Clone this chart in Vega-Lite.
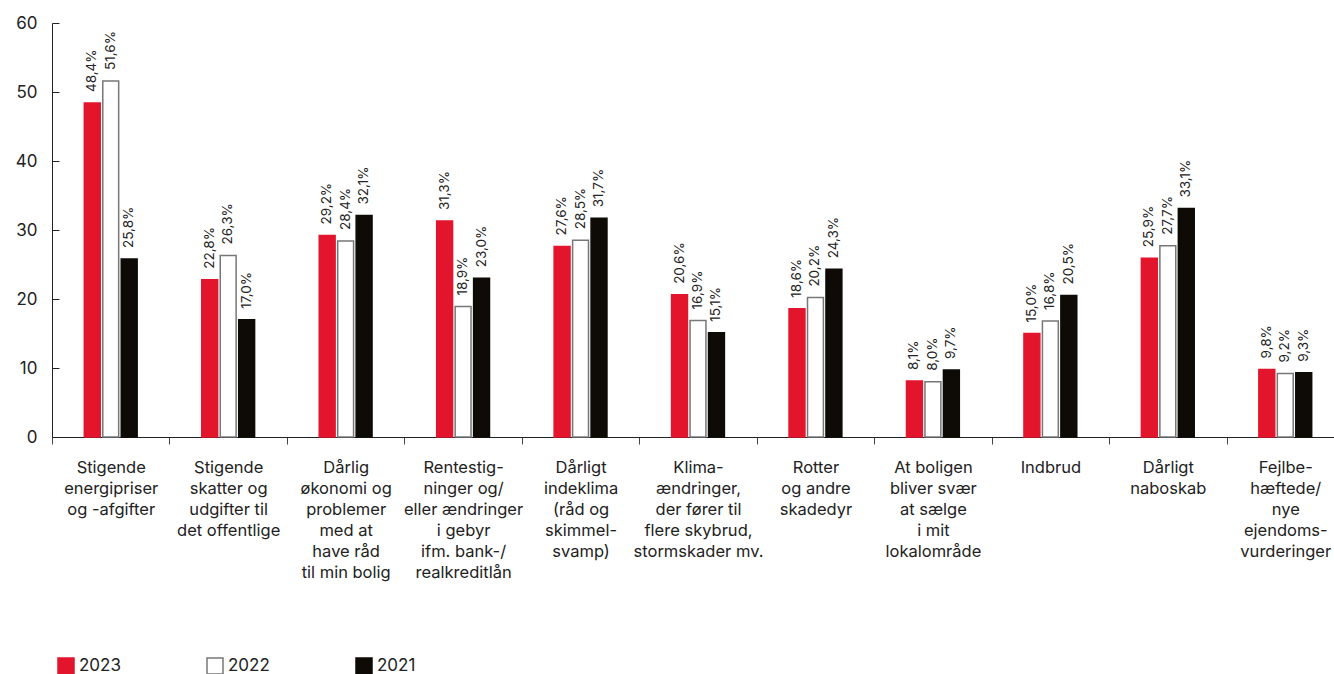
{
  "$schema": "https://vega.github.io/schema/vega-lite/v6.json",
  "width": 1292,
  "height": 414,
  "padding": {"left": 5, "top": 14, "right": 0, "bottom": 0},
  "autosize": {"type": "pad"},
  "background": "white",
  "config": {"view": {"stroke": null}, "font": "Inter"},
  "data": {
    "values": [
      {"cat": "Stigende|energipriser|og -afgifter", "year": "2023", "value": 48.4},
      {"cat": "Stigende|energipriser|og -afgifter", "year": "2022", "value": 51.6},
      {"cat": "Stigende|energipriser|og -afgifter", "year": "2021", "value": 25.8},
      {"cat": "Stigende|skatter og|udgifter til|det offentlige", "year": "2023", "value": 22.8},
      {"cat": "Stigende|skatter og|udgifter til|det offentlige", "year": "2022", "value": 26.3},
      {"cat": "Stigende|skatter og|udgifter til|det offentlige", "year": "2021", "value": 17.0},
      {"cat": "Dårlig|økonomi og|problemer|med at|have råd|til min bolig", "year": "2023", "value": 29.2},
      {"cat": "Dårlig|økonomi og|problemer|med at|have råd|til min bolig", "year": "2022", "value": 28.4},
      {"cat": "Dårlig|økonomi og|problemer|med at|have råd|til min bolig", "year": "2021", "value": 32.1},
      {"cat": "Rentestig-|ninger og/|eller ændringer|i gebyr|ifm. bank-/|realkreditlån", "year": "2023", "value": 31.3},
      {"cat": "Rentestig-|ninger og/|eller ændringer|i gebyr|ifm. bank-/|realkreditlån", "year": "2022", "value": 18.9},
      {"cat": "Rentestig-|ninger og/|eller ændringer|i gebyr|ifm. bank-/|realkreditlån", "year": "2021", "value": 23.0},
      {"cat": "Dårligt|indeklima|(råd og|skimmel-|svamp)", "year": "2023", "value": 27.6},
      {"cat": "Dårligt|indeklima|(råd og|skimmel-|svamp)", "year": "2022", "value": 28.5},
      {"cat": "Dårligt|indeklima|(råd og|skimmel-|svamp)", "year": "2021", "value": 31.7},
      {"cat": "Klima-|ændringer,|der fører til|flere skybrud,|stormskader mv.", "year": "2023", "value": 20.6},
      {"cat": "Klima-|ændringer,|der fører til|flere skybrud,|stormskader mv.", "year": "2022", "value": 16.9},
      {"cat": "Klima-|ændringer,|der fører til|flere skybrud,|stormskader mv.", "year": "2021", "value": 15.1},
      {"cat": "Rotter|og andre|skadedyr", "year": "2023", "value": 18.6},
      {"cat": "Rotter|og andre|skadedyr", "year": "2022", "value": 20.2},
      {"cat": "Rotter|og andre|skadedyr", "year": "2021", "value": 24.3},
      {"cat": "At boligen|bliver svær|at sælge|i mit|lokalområde", "year": "2023", "value": 8.1},
      {"cat": "At boligen|bliver svær|at sælge|i mit|lokalområde", "year": "2022", "value": 8.0},
      {"cat": "At boligen|bliver svær|at sælge|i mit|lokalområde", "year": "2021", "value": 9.7},
      {"cat": "Indbrud", "year": "2023", "value": 15.0},
      {"cat": "Indbrud", "year": "2022", "value": 16.8},
      {"cat": "Indbrud", "year": "2021", "value": 20.5},
      {"cat": "Dårligt|naboskab", "year": "2023", "value": 25.9},
      {"cat": "Dårligt|naboskab", "year": "2022", "value": 27.7},
      {"cat": "Dårligt|naboskab", "year": "2021", "value": 33.1},
      {"cat": "Fejlbe-|hæftede/|nye|ejendoms-|vurderinger", "year": "2023", "value": 9.8},
      {"cat": "Fejlbe-|hæftede/|nye|ejendoms-|vurderinger", "year": "2022", "value": 9.2},
      {"cat": "Fejlbe-|hæftede/|nye|ejendoms-|vurderinger", "year": "2021", "value": 9.3}
    ]
  },
  "transform": [
    {"calculate": "replace(format(datum.value, '.1f'), '.', ',') + '%'", "as": "lbl"}
  ],
  "encoding": {
    "x": {
      "field": "cat",
      "type": "nominal",
      "sort": null,
      "scale": {"paddingInner": 0, "paddingOuter": 0},
      "axis": {
        "title": null,
        "labelAngle": 0,
        "labelExpr": "split(datum.label, '|')",
        "labelFontSize": 16.5,
        "labelLineHeight": 21,
        "labelColor": "#222",
        "labelBaseline": "top",
        "labelPadding": 15,
        "labelLimit": 0,
        "tickBand": "extent",
        "tickSize": 7,
        "tickColor": "#444",
        "domainColor": "#222",
        "labelFont": "Inter"
      }
    },
    "xOffset": {
      "field": "year",
      "type": "nominal",
      "scale": {"domain": ["_a", "2023", "2022", "2021", "_b"], "paddingInner": 0.14, "paddingOuter": 0.75}
    },
    "y": {
      "field": "value",
      "type": "quantitative",
      "scale": {"domain": [0, 60], "nice": false},
      "axis": {
        "title": null,
        "values": [0, 10, 20, 30, 40, 50, 60],
        "grid": false,
        "labelFontSize": 17,
        "labelColor": "#222",
        "tickSize": -7,
        "labelPadding": 22,
        "tickColor": "#222",
        "domainColor": "#222",
        "minExtent": 47,
        "maxExtent": 47,
        "labelFont": "Inter"
      }
    }
  },
  "layer": [
    {
      "mark": {"type": "bar", "strokeWidth": 1.5},
      "encoding": {
        "fill": {
          "field": "year",
          "type": "nominal",
          "scale": {"domain": ["2023", "2022", "2021"], "range": ["#E3152D", "#FFFFFF", "#0E0B07"]},
          "legend": {
            "orient": "none",
            "legendX": 5,
            "legendY": 634,
            "direction": "horizontal",
            "title": null,
            "symbolType": "square",
            "symbolSize": 256,
            "symbolStrokeWidth": 1.5,
            "labelFontSize": 17,
            "labelColor": "#222",
            "labelOffset": 4,
            "columnPadding": 83,
            "padding": 0,
            "labelFont": "Inter"
          }
        },
        "stroke": {
          "field": "year",
          "type": "nominal",
          "scale": {"domain": ["2023", "2022", "2021"], "range": ["#E3152D", "#777777", "#0E0B07"]},
          "legend": {
            "orient": "none",
            "legendX": 5,
            "legendY": 634,
            "direction": "horizontal",
            "title": null,
            "symbolType": "square",
            "symbolSize": 256,
            "symbolStrokeWidth": 1.5,
            "labelFontSize": 17,
            "labelColor": "#222",
            "labelOffset": 4,
            "columnPadding": 83,
            "padding": 0,
            "labelFont": "Inter"
          }
        }
      }
    },
    {
      "mark": {"type": "text", "angle": 270, "align": "left", "baseline": "middle", "dx": 11, "fontSize": 13.5, "color": "#222", "font": "Inter"},
      "encoding": {"text": {"field": "lbl", "type": "nominal"}}
    }
  ]
}
